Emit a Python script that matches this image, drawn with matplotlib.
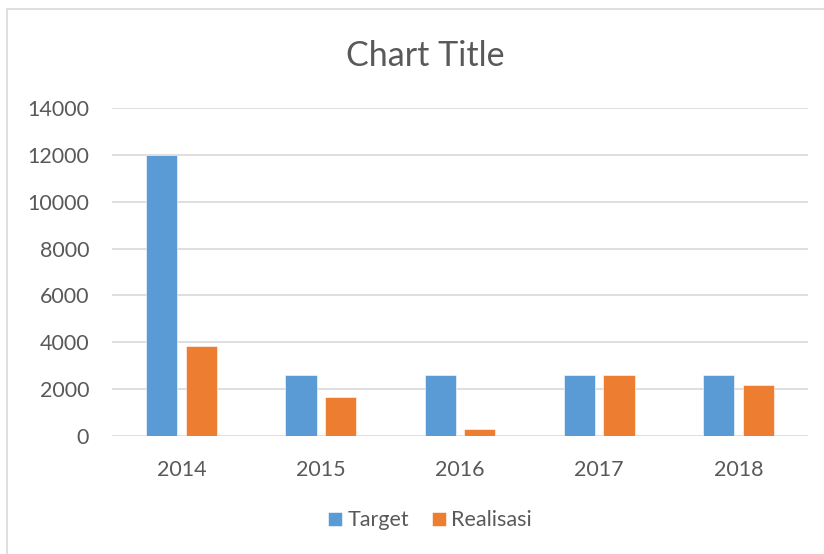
import matplotlib
matplotlib.use("Agg")
import matplotlib.pyplot as plt
from matplotlib.patches import Rectangle
import numpy as np

categories = ["2014", "2015", "2016", "2017", "2018"]
target = [12000, 2600, 2600, 2600, 2600]
realisasi = [3850, 1650, 310, 2600, 2170]
yticks = [0, 2000, 4000, 6000, 8000, 10000, 12000, 14000]

TXT = "#595959"
plt.rcParams['font.family'] = ['Lato', 'DejaVu Sans']

W, H = 824, 554
fig = plt.figure(figsize=(W / 100, H / 100), dpi=100)
fig.patch.set_facecolor("white")
fig.patches.append(Rectangle((7 / W, -0.1), 1.2, 1 - 9 / H + 0.1, transform=fig.transFigure,
                             fill=False, edgecolor="#d9d9d9", linewidth=1.2))

ax = fig.add_axes([112 / W, 1 - 436 / H, (808 - 112) / W, (436 - 108) / H])
x = np.arange(len(categories))
bw = 0.224
off = 0.142
ax.bar(x - off, target, bw, color="#5b9bd5", edgecolor="white", linewidth=0.4, label="Target", zorder=3)
ax.bar(x + off, realisasi, bw, color="#ed7d31", edgecolor="white", linewidth=0.4, label="Realisasi", zorder=3)

ax.set_xlim(-0.5, len(categories) - 0.5)
ax.set_ylim(0, 14000)
ax.set_yticks(yticks)
ax.set_yticklabels([str(v) for v in yticks])
ax.set_xticks(x)
ax.set_xticklabels(categories)
ax.grid(axis="y", color="#d9d9d9", linewidth=1.2, zorder=0)
for s in ax.spines.values():
    s.set_visible(False)
ax.tick_params(axis="both", length=0, labelsize=15.5, colors=TXT)
ax.tick_params(axis="x", pad=17)
ax.tick_params(axis="y", pad=16.5)

fig.text(425.5 / W, 1 - 66 / H, "Chart Title", ha="center", va="baseline", fontsize=24.5, color=TXT)

leg = fig.legend(loc="center", bbox_to_anchor=(430 / W, 1 - 520.5 / H), ncol=2, frameon=False,
                 fontsize=15.5, handlelength=0.65, handleheight=0.65, handletextpad=0.25,
                 columnspacing=1.05, labelcolor=TXT)

fig.savefig("out.png", dpi=100)
